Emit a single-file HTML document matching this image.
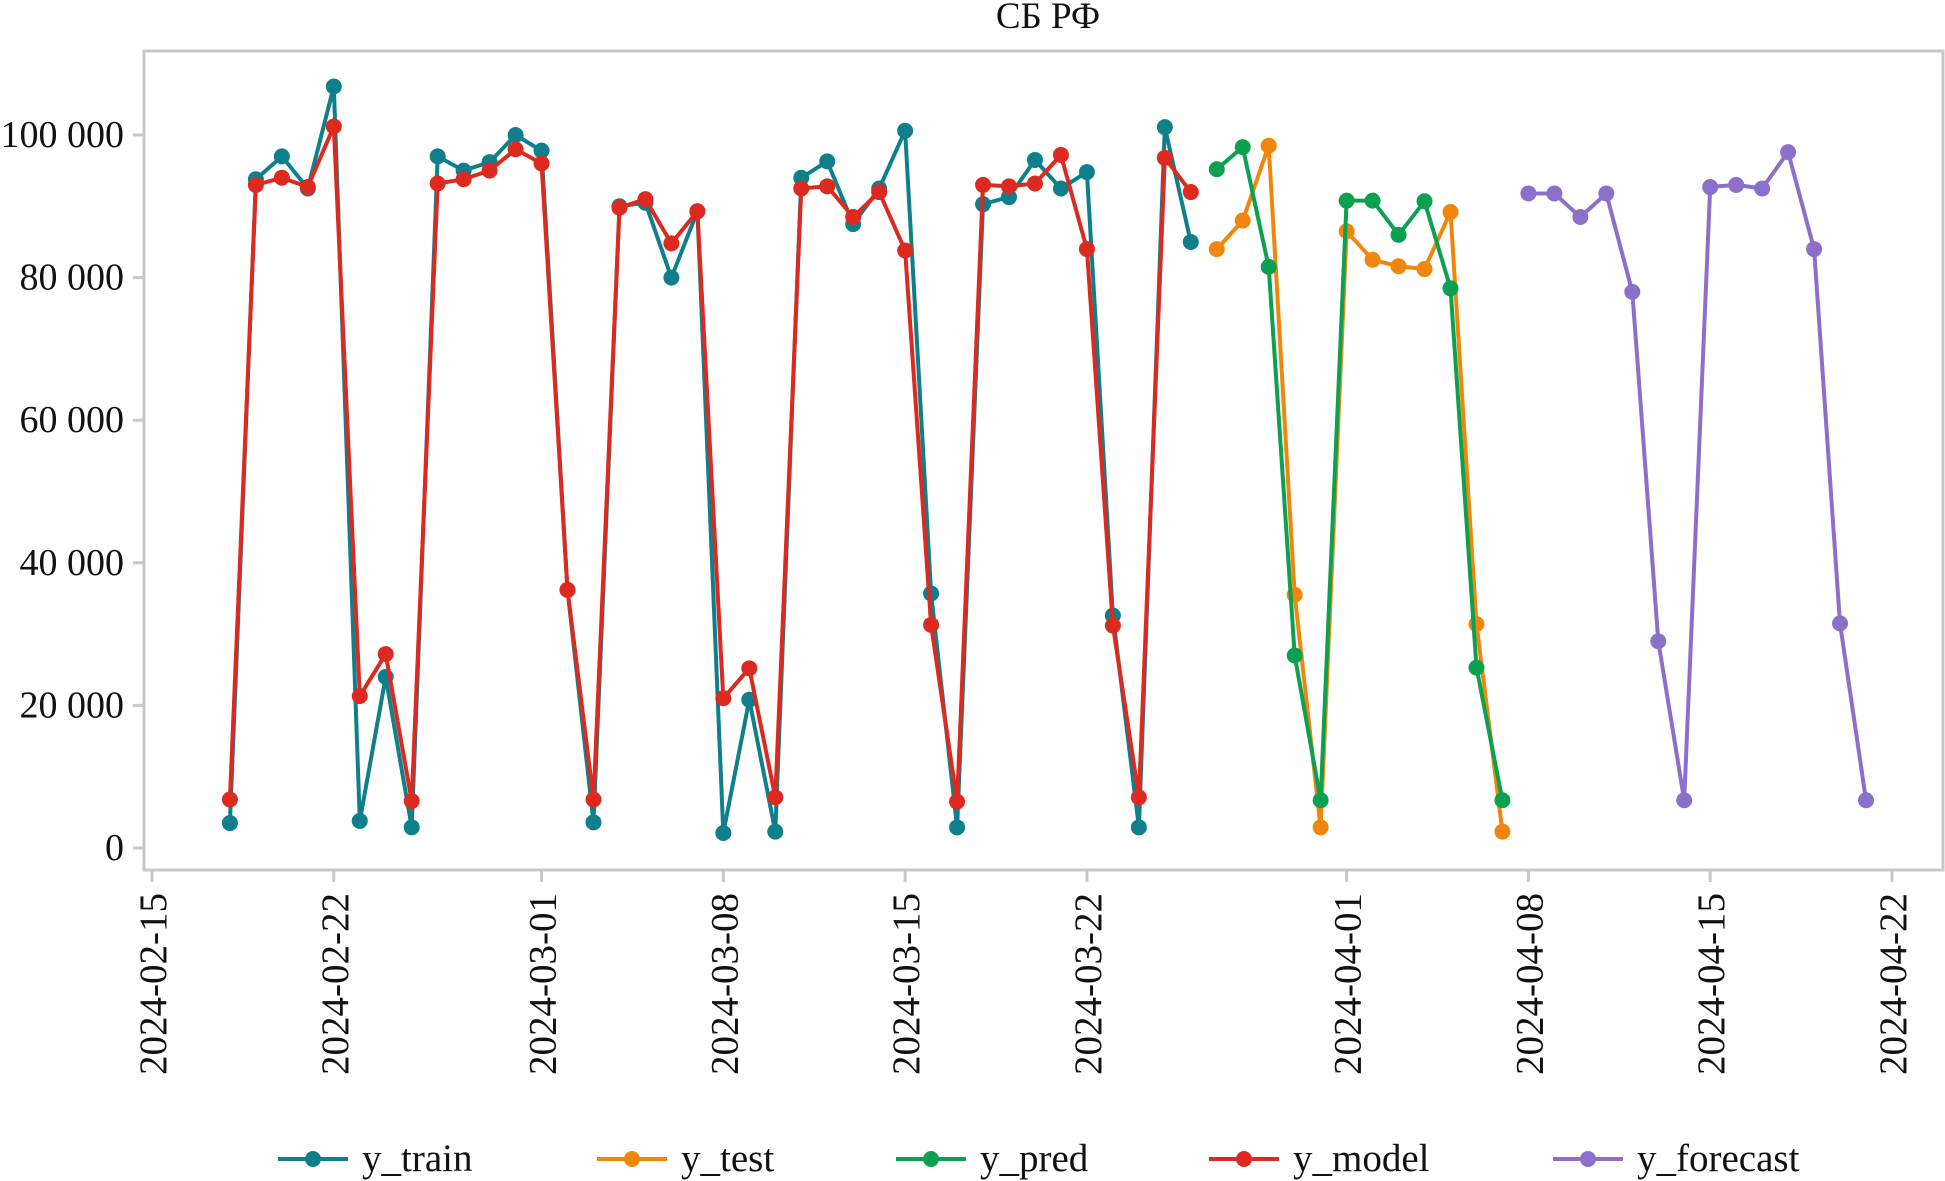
<!DOCTYPE html>
<html><head><meta charset="utf-8"><style>
html,body{margin:0;padding:0;background:#fff}
svg{display:block;font-family:"Liberation Serif",serif}
</style></head><body>
<svg id="chart" width="1945" height="1181">
<text x="1048" y="28" text-anchor="middle" font-size="37" fill="#111">СБ РФ</text>
<rect x="144" y="51" width="1799" height="819" fill="none" stroke="#c8c8c8" stroke-width="3"/>
<g id="axes"></g><g id="series"></g><g id="legend"></g>
</svg>
<script>
const yTicks=[0,20000,40000,60000,80000,100000];
const yTickLabels=["0","20 000","40 000","60 000","80 000","100 000"];
const xTickDays=[0,7,15,22,29,36,46,53,60,67];
const xTickLabels=["2024-02-15","2024-02-22","2024-03-01","2024-03-08","2024-03-15","2024-03-22","2024-04-01","2024-04-08","2024-04-15","2024-04-22"];
const trainStart=3;
const yTrain=[3500,93800,97000,92500,106800,3800,24000,2900,97000,95000,96200,100000,97800,36200,3600,90000,90500,80000,89300,2100,20800,2300,94000,96300,87500,92500,100600,35700,2900,90300,91300,96500,92500,94800,32600,2900,101100,85000];
const modelStart=3;
const yModel=[6800,93000,94000,92700,101200,21300,27200,6600,93200,93800,95000,98000,96000,36200,6800,89800,91000,84800,89300,21000,25200,7100,92500,92800,88500,92000,83800,31300,6500,93000,92800,93200,97200,84000,31200,7100,96800,92000];
const testStart=41;
const yTest=[84000,88000,98500,35500,2900,86500,82500,81600,81200,89200,31400,2300];
const predStart=41;
const yPred=[95200,98300,81500,27000,6700,90800,90800,86000,90700,78500,25300,6700];
const forecastStart=53;
const yForecast=[91800,91800,88500,91800,78000,29000,6700,92700,93000,92500,97600,84000,31500,6700];
const legendNames=["y_train","y_test","y_pred","y_model","y_forecast"];
const NS="http://www.w3.org/2000/svg";
const X=d=>152+25.97*d;
const Y=v=>848-v*(713/100000);
function mk(tag,attrs,parent){const e=document.createElementNS(NS,tag);for(const k in attrs)e.setAttribute(k,attrs[k]);parent.appendChild(e);return e;}
const axes=document.getElementById('axes');
yTicks.forEach((v,i)=>{
 const t=mk('line',{x1:133,x2:144,y1:Y(v),y2:Y(v),stroke:'#c8c8c8','stroke-width':3},axes);
 
 
 const l=mk('text',{x:124,y:Y(v)+12,'text-anchor':'end','font-size':38,fill:'#111'},axes);
 l.textContent=yTickLabels[i];
 
 
});
xTickDays.forEach((d,i)=>{
 const t=mk('line',{x1:X(d),x2:X(d),y1:870,y2:882,stroke:'#c8c8c8','stroke-width':3},axes);
 
 
 const l=mk('text',{x:0,y:0,'text-anchor':'end','font-size':39,fill:'#111',transform:`translate(${X(d)+14},893) rotate(-90)`},axes);
 l.textContent=xTickLabels[i];
 
 
});
const ser=document.getElementById('series');
const series=[
 {name:'y_train',start:trainStart,vals:yTrain,color:'#0e7f8b'},
 {name:'y_test',start:testStart,vals:yTest,color:'#f0870c'},
 {name:'y_pred',start:predStart,vals:yPred,color:'#0ba150'},
 {name:'y_model',start:modelStart,vals:yModel,color:'#dc2a20'},
 {name:'y_forecast',start:forecastStart,vals:yForecast,color:'#8c6fca'}];
series.forEach(s=>{
 const g=mk('g',{},ser);
 
 
 const pts=s.vals.map((v,i)=>X(s.start+i).toFixed(1)+','+Y(v).toFixed(1)).join(' ');
 const pl=mk('polyline',{points:pts,fill:'none',stroke:s.color,'stroke-width':4,'stroke-linejoin':'round'},g);
 
 
 s.vals.forEach((v,i)=>{
  const c=mk('circle',{cx:X(s.start+i),cy:Y(v),r:8,fill:s.color},g);
  
  
 });
});
const leg=document.getElementById('legend');
const legX=[278,597,896,1209,1553];
series.forEach((s,i)=>{
 const g=mk('g',{},leg);
 
 
 mk('line',{x1:legX[i],x2:legX[i]+70,y1:1159,y2:1159,stroke:s.color,'stroke-width':4},g);
 mk('circle',{cx:legX[i]+35,cy:1159,r:8,fill:s.color},g);
 const t=mk('text',{x:legX[i]+84,y:1171,'font-size':39,fill:'#111'},g);
 t.textContent=legendNames[i];
});
</script>
</body></html>
